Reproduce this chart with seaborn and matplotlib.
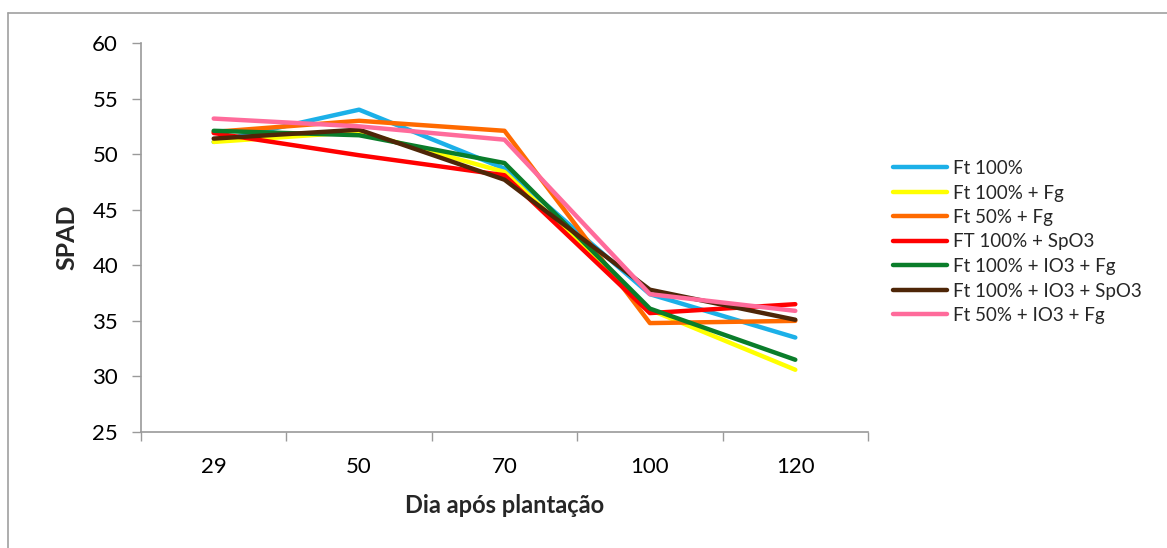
import matplotlib
matplotlib.use("Agg")
import matplotlib.pyplot as plt
import seaborn as sns
import pandas as pd
from matplotlib.lines import Line2D

days = ["29", "50", "70", "100", "120"]
series_names = ["Ft 100%", "Ft 100% + Fg", "Ft 50% + Fg", "FT 100% + SpO3",
                "Ft 100% + IO3 + Fg", "Ft 100% + IO3 + SpO3", "Ft 50% + IO3 + Fg"]
ft100 = [51.1, 54.0, 48.7, 37.4, 33.5]
ft100_fg = [51.1, 52.0, 48.4, 36.0, 30.6]
ft50_fg = [52.0, 53.0, 52.1, 34.8, 35.0]
ft100_spo3 = [51.9, 49.9, 48.1, 35.7, 36.5]
ft100_io3_fg = [52.1, 51.7, 49.2, 36.1, 31.5]
ft100_io3_spo3 = [51.4, 52.2, 47.7, 37.8, 35.1]
ft50_io3_fg = [53.2, 52.5, 51.3, 37.4, 35.9]
colors = ["#1cb0e8", "#ffff00", "#ff6a00", "#ff0000", "#0a7d2a", "#4e2608", "#ff6b9b"]

values = [ft100, ft100_fg, ft50_fg, ft100_spo3, ft100_io3_fg, ft100_io3_spo3, ft50_io3_fg]
rows = []
for name, vals in zip(series_names, values):
    for i, (d, v) in enumerate(zip(days, vals)):
        rows.append({"pos": i, "day": d, "SPAD": v, "Tratamento": name})
df = pd.DataFrame(rows)

sns.set_theme(style="white")
plt.rcParams["font.family"] = ["Lato", "DejaVu Sans"]

fig = plt.figure(figsize=(11.67, 5.48), dpi=100)
ax = fig.add_axes([141/1167, 1-432/548, (868-141)/1167, (432-43)/548])

sns.lineplot(data=df, x="pos", y="SPAD", hue="Tratamento", hue_order=series_names,
             palette=colors, linewidth=3.2, ax=ax, legend=False, sort=False)

ax.set_xlim(-0.5, len(days) - 0.5)
ax.set_ylim(25, 60)
ax.set_yticks(range(25, 61, 5))
ax.set_xticks(range(len(days)))
ax.set_xticklabels(days)
ax.set_xticks([i - 0.5 for i in range(len(days) + 1)], minor=True)
ax.tick_params(axis="x", which="major", length=0, pad=18, labelsize=16, colors="black")
ax.tick_params(axis="x", which="minor", length=6.5, width=1, color="#9a9a9a", direction="out", bottom=True)
ax.tick_params(axis="y", which="major", length=6.5, width=1, color="#9a9a9a", direction="out", left=True,
               labelsize=16, pad=10, labelcolor="black")
for s in ["top", "right"]:
    ax.spines[s].set_visible(False)
for s in ["left", "bottom"]:
    ax.spines[s].set_color("#9a9a9a")
    ax.spines[s].set_linewidth(1.2)

ax.set_xlabel("Dia após plantação", fontsize=17, fontweight="bold", labelpad=12)
ax.set_ylabel("SPAD", fontsize=18, fontweight="bold", labelpad=10)

handles = [Line2D([0], [0], color=c, lw=3.2, solid_capstyle="round") for c in colors]
fig.legend(handles, series_names, loc="upper left", bbox_to_anchor=(893/1167, 1-160/548),
           frameon=False, fontsize=13.5, handlelength=2.9, handletextpad=0.3,
           labelspacing=0.40, borderaxespad=0, borderpad=0)

# outer chart border
fig.add_artist(Line2D([8/1167, 1.0], [1-12.5/548, 1-12.5/548], transform=fig.transFigure,
                      color="#a0a0a0", lw=1.2))
fig.add_artist(Line2D([8/1167, 8/1167], [0, 1-12.5/548], transform=fig.transFigure,
                      color="#a0a0a0", lw=1.2))

fig.savefig("out.png", dpi=100)
